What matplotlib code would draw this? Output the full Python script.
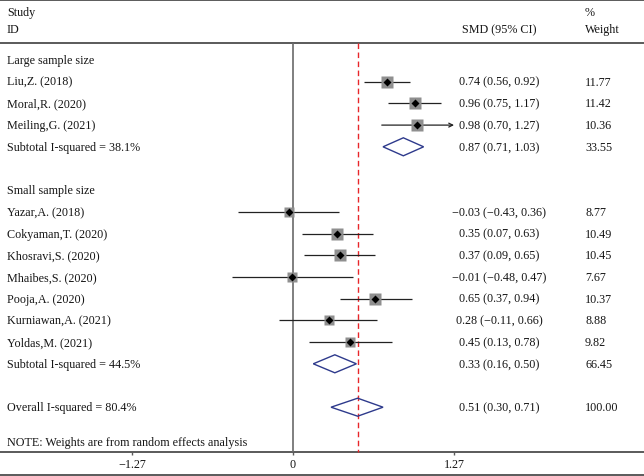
import numpy as np
import matplotlib
matplotlib.use("Agg")
import matplotlib.pyplot as plt
from matplotlib.patches import Polygon

plt.rcParams['font.family'] = ['Liberation Serif', 'DejaVu Serif']
plt.rcParams['font.size'] = 8.7

#### Data ####

large_names = ["Liu,Z. (2018)", "Moral,R. (2020)", "Meiling,G. (2021)"]
large_smd = [0.74, 0.96, 0.98]
large_lo = [0.56, 0.75, 0.70]
large_hi = [0.92, 1.17, 1.27]
large_w = [11.77, 11.42, 10.36]

small_names = ["Yazar,A. (2018)", "Cokyaman,T. (2020)", "Khosravi,S. (2020)",
               "Mhaibes,S. (2020)", "Pooja,A. (2020)", "Kurniawan,A. (2021)",
               "Yoldas,M. (2021)"]
small_smd = [-0.03, 0.35, 0.37, -0.01, 0.65, 0.28, 0.45]
small_lo = [-0.43, 0.07, 0.09, -0.48, 0.37, -0.11, 0.13]
small_hi = [0.36, 0.63, 0.65, 0.47, 0.94, 0.66, 0.78]
small_w = [8.77, 10.49, 10.45, 7.67, 10.37, 8.88, 9.82]

sub_labels = ["Subtotal I-squared = 38.1%", "Subtotal I-squared = 44.5%"]
sub_smd = [0.87, 0.33]
sub_lo = [0.71, 0.16]
sub_hi = [1.03, 0.50]
sub_w = [33.55, 66.45]

overall_label = "Overall I-squared = 80.4%"
overall_smd, overall_lo, overall_hi, overall_w = 0.51, 0.30, 0.71, 100.00

ticks = [-1.27, 0, 1.27]

####################

W, H = 644, 477
x0_px, unit_px = 293, 126.8
row0, row_h = 61, 21.7

def row_y(i):
    return row0 + row_h * i

def fx(px):
    return px / W

def fmt(v):
    return ("%.2f" % v).replace("-", "\u2212")

fig = plt.figure(figsize=(W / 100, H / 100), dpi=100)
ax = fig.add_axes([0, 0, 1, 1])
ax.set_xlim(-x0_px / unit_px, (W - x0_px) / unit_px)
ax.set_ylim(H, 0)
ax.axis('off')
tr = ax.get_yaxis_transform()

txt = '#151515'
line_c = '#5a5a5a'
dia_c = '#2e3a8c'

# frame lines
for y in [1.2, 44, 452.5, 475.5]:
    ax.axhline(y, color=line_c, lw=1.4)

# header
ax.text(fx(7), 13, "Study", transform=tr, va='center', color=txt)
ax.text(fx(7), 30, "ID", transform=tr, va='center', color=txt)
ax.text(fx(499), 30, "SMD (95% CI)", transform=tr, va='center', ha='center', color=txt)
ax.text(fx(585), 13, "%", transform=tr, va='center', color=txt)
ax.text(fx(585), 30, "Weight", transform=tr, va='center', color=txt)

# reference lines
ax.vlines(0, 44, 452.5, color='#6a6a6a', lw=1.2)
ax.vlines(overall_smd, 44, 452.5, color='#e8262a', lw=1.0, linestyles=(0, (4, 2.5)))

xmax = ticks[-1]

def study_row(i, name, est, lo, hi, w):
    y = row_y(i)
    ax.text(fx(7), y, name, transform=tr, va='center', color=txt)
    if hi >= xmax:
        ax.annotate("", xy=(xmax, y), xytext=(lo, y),
                    arrowprops=dict(arrowstyle='->', color='#222222', lw=0.9,
                                    shrinkA=0, shrinkB=0, mutation_scale=7))
    else:
        ax.hlines(y, lo, hi, color='#222222', lw=0.9)
    side = 8.6 * np.sqrt(w / 11.77)
    ax.plot(est, y, marker='s', ms=side, color='#8f8f8f', mec='none', zorder=3)
    ax.plot(est, y, marker='D', ms=3.8, color='black', mec='none', zorder=4)
    ax.text(fx(499), y, "%s (%s, %s)" % (fmt(est), fmt(lo), fmt(hi)),
            transform=tr, va='center', ha='center', color=txt)
    ax.text(fx(585), y, "%.2f" % w, transform=tr, va='center', color=txt)

def diamond_row(i, label, est, lo, hi, w):
    y = row_y(i)
    ax.text(fx(7), y, label, transform=tr, va='center', color=txt)
    ax.add_patch(Polygon([(lo, y), (est, y - 9), (hi, y), (est, y + 9)],
                         closed=True, fill=False, ec=dia_c, lw=1.0, zorder=3))
    ax.text(fx(499), y, "%s (%s, %s)" % (fmt(est), fmt(lo), fmt(hi)),
            transform=tr, va='center', ha='center', color=txt)
    ax.text(fx(585), y, "%.2f" % w, transform=tr, va='center', color=txt)

ax.text(fx(7), row_y(0), "Large sample size", transform=tr, va='center', color=txt)
for k in range(len(large_names)):
    study_row(1 + k, large_names[k], large_smd[k], large_lo[k], large_hi[k], large_w[k])
diamond_row(4, sub_labels[0], sub_smd[0], sub_lo[0], sub_hi[0], sub_w[0])

ax.text(fx(7), row_y(6), "Small sample size", transform=tr, va='center', color=txt)
for k in range(len(small_names)):
    study_row(7 + k, small_names[k], small_smd[k], small_lo[k], small_hi[k], small_w[k])
diamond_row(14, sub_labels[1], sub_smd[1], sub_lo[1], sub_hi[1], sub_w[1])

diamond_row(16, overall_label, overall_smd, overall_lo, overall_hi, overall_w)

ax.text(fx(7), 443, "NOTE: Weights are from random effects analysis",
        transform=tr, va='center', color=txt)

# x axis ticks
for t in ticks:
    ax.vlines(t, 452.5, 456, color=line_c, lw=1.0)
    lab = "0" if t == 0 else fmt(t)
    ax.text(t, 465, lab, ha='center', va='center', color=txt)

fig.savefig("out.png", dpi=100)
